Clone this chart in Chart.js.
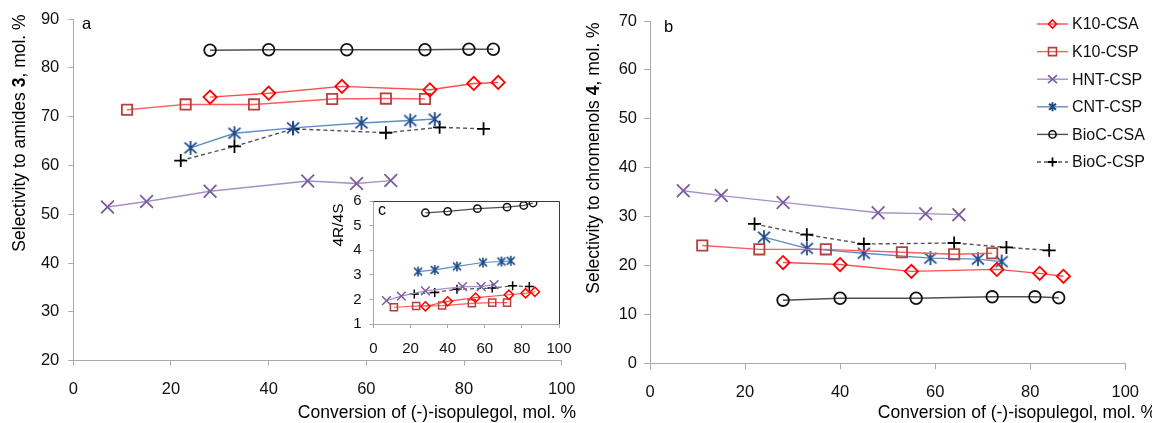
<!DOCTYPE html>
<html><head><meta charset="utf-8">
<script src="https://cdn.jsdelivr.net/npm/chart.js@4.4.1/dist/chart.umd.min.js"></script>
<style>
html,body{margin:0;padding:0;background:#fff;}
#wrap{position:relative;width:1152px;height:423px;overflow:hidden;background:#fff;}
canvas{position:absolute;left:0;top:0;}
</style></head><body>
<div id="wrap">
<canvas id="cb" width="1152" height="423"></canvas>
<canvas id="ca" width="1152" height="423"></canvas>
<canvas id="cc" width="1152" height="423"></canvas>
</div>
<script>
// ---------- DATA ----------
const seriesNames = ['K10-CSA','K10-CSP','HNT-CSP','CNT-CSP','BioC-CSA','BioC-CSP'];
const xTickValues = [0,20,40,60,80,100];
const yTicksA = [20,30,40,50,60,70,80,90];
const yTicksB = [0,10,20,30,40,50,60,70];
const yTicksC = [1,2,3,4,5,6];

// conversion (x) values, mol. %
const k10csaX  = [28,40,55,73,82,87];
const k10cspX  = [11,23,37,53,64,72];
const hntX     = [7,15,28,48,58,65];
const cntX     = [24,33,45,59,69,74];
const biocsaX  = [28,40,56,72,81,86];
const biocspX  = [22,33,45,64,75,84];

// panel a: selectivity to amides 3
const k10csaA  = [74.0,74.8,76.2,75.5,76.8,77.0];
const k10cspA  = [71.4,72.5,72.5,73.6,73.7,73.6];
const hntA     = [51.5,52.6,54.7,56.8,56.3,56.9];
const cntA     = [63.6,66.6,67.7,68.7,69.2,69.5];
const biocsaA  = [83.6,83.7,83.7,83.7,83.8,83.8];
const biocspA  = [61.0,63.9,67.5,66.7,67.8,67.5];

// panel b: selectivity to chromenols 4
const k10csaB  = [20.6,20.2,18.8,19.2,18.4,17.8];
const k10cspB  = [24.1,23.3,23.3,22.7,22.3,22.5];
const hntB     = [35.3,34.3,32.9,30.8,30.6,30.4];
const cntB     = [25.8,23.5,22.5,21.5,21.3,20.8];
const biocsaB  = [12.9,13.3,13.3,13.6,13.6,13.4];
const biocspB  = [28.5,26.3,24.4,24.6,23.7,23.1];

// panel c: 4R/4S ratio
const k10csaC  = [1.72,1.92,2.07,2.19,2.25,2.31];
const k10cspC  = [1.68,1.73,1.75,1.84,1.87,1.87];
const hntC     = [1.95,2.13,2.35,2.52,2.52,2.60];
const cntC     = [3.13,3.20,3.34,3.50,3.54,3.57];
const biocsaC  = [5.52,5.58,5.69,5.75,5.82,5.92];
const biocspC  = [2.22,2.28,2.41,2.46,2.55,2.52];

// ---------- STYLE ----------
const FONT = "'Liberation Sans', Arial, Helvetica, sans-serif";
const AXIS = '#a9a9a9';
const TXT = '#111';
const xsList = [k10csaX,k10cspX,hntX,cntX,biocsaX,biocspX];
const ysA = [k10csaA,k10cspA,hntA,cntA,biocsaA,biocspA];
const ysB = [k10csaB,k10cspB,hntB,cntB,biocsaB,biocspB];
const ysC = [k10csaC,k10cspC,hntC,cntC,biocsaC,biocspC];
const sty = [
  {line:'#ff4d4d', mark:'#ff0000', shape:'diamond', dash:[]},
  {line:'#ff5c5c', mark:'#b5413d', shape:'square', dash:[]},
  {line:'#a690c6', mark:'#7b5d9d', shape:'x', dash:[]},
  {line:'#5f8bc6', mark:'#1c4b8a', shape:'star', dash:[]},
  {line:'#505050', mark:'#111111', shape:'circle', dash:[]},
  {line:'#555555', mark:'#000000', shape:'plus', dash:[4,3]}
];

function starImg(w,h,color,lw){
  const c=document.createElement('canvas');
  c.width=Math.ceil(w+lw*2+2); c.height=Math.ceil(h+lw*2+2);
  const g=c.getContext('2d'); g.strokeStyle=color; g.lineWidth=lw;
  const cx=c.width/2, cy=c.height/2;
  g.beginPath();
  g.moveTo(cx-w/2,cy-h*0.38); g.lineTo(cx+w/2,cy+h*0.38);
  g.moveTo(cx-w/2,cy+h*0.38); g.lineTo(cx+w/2,cy-h*0.38);
  g.moveTo(cx,cy-h/2); g.lineTo(cx,cy+h/2);
  g.stroke(); return c;
}
const sizes = {
  main:  {diamond:['rectRot',6.6], square:['rect',7.3], x:['crossRot',9], circle:['circle',5.8], plus:['cross',6.5], star:[12,14,1.8], lw:1.8},
  inset: {diamond:['rectRot',4.6], square:['rect',5.0], x:['crossRot',6.2], circle:['circle',3.7], plus:['cross',4.5], star:[8,10,1.6], lw:1.5}
};
function ds(i, ys, which){
  const s=sty[i], z=sizes[which];
  let ps, r;
  if(s.shape==='star'){ const st=z.star; ps=starImg(st[0],st[1],s.mark,st[2]); r=6; }
  else { ps=z[s.shape][0]; r=z[s.shape][1]; }
  return {
    label: seriesNames[i],
    data: xsList[i].map((x,k)=>({x:x, y:ys[k]})),
    borderColor: s.line, borderWidth: which==='main'?1.4:1.2, borderDash: s.dash,
    pointStyle: ps, pointRadius: r, pointHoverRadius: r,
    pointBorderColor: s.mark, pointBackgroundColor: 'rgba(0,0,0,0)', pointBorderWidth: z.lw,
    tension: 0, fill: false
  };
}

function mixedText(ctx, parts, x, y, rot, align, size){
  ctx.save(); ctx.translate(x,y); ctx.rotate(rot);
  ctx.textBaseline='middle'; ctx.fillStyle='#000'; ctx.textAlign='left';
  let w=0;
  parts.forEach(p=>{ctx.font=(p.b?'bold ':'')+size+'px '+FONT; p.w=ctx.measureText(p.t).width; w+=p.w;});
  let cx = align==='center' ? -w/2 : (align==='right' ? -w : 0);
  parts.forEach(p=>{ctx.font=(p.b?'bold ':'')+size+'px '+FONT; ctx.fillText(p.t,cx,0); cx+=p.w;});
  ctx.restore();
}

function axes(ymin,ymax,yticks,cfg){
  return {
    x: {type:'linear', min:0, max:100, afterBuildTicks: s=>{s.ticks = xTickValues.map(v=>({value:v}));},
        ticks:{font:{family:FONT,size:cfg.fs}, color:TXT, padding:cfg.xpad, maxRotation:0, autoSkip:false},
        grid:{drawOnChartArea:false, drawTicks:true, tickLength:cfg.tl, color:AXIS},
        border:{color:AXIS, width:1},
        afterFit: s=>{ s.height = cfg.xh; }},
    y: {type:'linear', min:ymin, max:ymax, afterBuildTicks: s=>{s.ticks = yticks.map(v=>({value:v}));},
        ticks:{font:{family:FONT,size:cfg.fs}, color:TXT, padding:cfg.ypad, autoSkip:false},
        grid:{drawOnChartArea:false, drawTicks:true, tickLength:cfg.tl, color:AXIS},
        border:{color:AXIS, width:1},
        afterFit: s=>{ s.width = cfg.yw; }}
  };
}
const common = {responsive:false, animation:false, devicePixelRatio:1,
  plugins:{legend:{display:false}, tooltip:{enabled:false}}, events:[]};

// ---------- PANEL B ----------
const legendPlugin = {
  id:'legendB',
  afterDraw(chart){
    const ctx=chart.ctx;
    const y0=24, step=27.6, x1=1037, x2=1068, mx=1052.5;
    seriesNames.forEach((n,i)=>{
      const s=sty[i], y=y0+i*step;
      ctx.save();
      ctx.strokeStyle=s.line; ctx.lineWidth=1.4; ctx.setLineDash(s.dash);
      ctx.beginPath(); ctx.moveTo(x1,y); ctx.lineTo(x2,y); ctx.stroke();
      ctx.setLineDash([]);
      ctx.strokeStyle=s.mark; ctx.lineWidth=1.6;
      ctx.beginPath();
      if(s.shape==='diamond'){ ctx.moveTo(mx,y-4);ctx.lineTo(mx+4,y);ctx.lineTo(mx,y+4);ctx.lineTo(mx-4,y);ctx.closePath(); }
      else if(s.shape==='square'){ ctx.rect(mx-4,y-4,8,8); }
      else if(s.shape==='x'){ ctx.moveTo(mx-4.5,y-4);ctx.lineTo(mx+4.5,y+4);ctx.moveTo(mx-4.5,y+4);ctx.lineTo(mx+4.5,y-4); }
      else if(s.shape==='star'){ ctx.moveTo(mx-3.5,y-3);ctx.lineTo(mx+3.5,y+3);ctx.moveTo(mx-3.5,y+3);ctx.lineTo(mx+3.5,y-3);ctx.moveTo(mx,y-4.5);ctx.lineTo(mx,y+4.5); ctx.lineWidth=2; }
      else if(s.shape==='circle'){ ctx.arc(mx,y,3.6,0,Math.PI*2); }
      else if(s.shape==='plus'){ ctx.moveTo(mx-4.5,y);ctx.lineTo(mx+4.5,y);ctx.moveTo(mx,y-4.5);ctx.lineTo(mx,y+4.5); ctx.lineWidth=1.8; }
      ctx.stroke();
      ctx.fillStyle=TXT; ctx.font='16px '+FONT; ctx.textBaseline='middle'; ctx.textAlign='left';
      ctx.fillText(n, 1072, y+1);
      ctx.restore();
    });
  }
};
const textB = {
  id:'textB',
  afterDraw(chart){
    const ctx=chart.ctx;
    mixedText(ctx,[{t:'Selectivity to chromenols '},{t:'4',b:true},{t:', mol. %'}], 594, 158, -Math.PI/2, 'center', 17.5);
    mixedText(ctx,[{t:'Conversion of (-)-isopulegol, mol. %'}], 1156, 413, 0, 'right', 17.5);
    mixedText(ctx,[{t:'b'}], 664, 27, 0, 'left', 16.5);
  }
};
new Chart(document.getElementById('cb'), {
  type:'line',
  data:{datasets: ysB.map((ys,i)=>ds(i,ys,'main'))},
  options: Object.assign({}, common, {
    layout:{padding:{left:590, right:1152-1130.7, top:21, bottom:0}},
    scales: axes(0,70,yTicksB,{fs:16.5, xpad:13, ypad:7, tl:6, xh:423-363.3, yw:60})
  }),
  plugins:[legendPlugin, textB]
});

// ---------- PANEL A ----------
const textA = {
  id:'textA',
  afterDraw(chart){
    const ctx=chart.ctx;
    mixedText(ctx,[{t:'Selectivity to amides '},{t:'3',b:true},{t:', mol. %'}], 20, 133, -Math.PI/2, 'center', 17.5);
    mixedText(ctx,[{t:'Conversion of (-)-isopulegol, mol. %'}], 576, 413, 0, 'right', 17.5);
    mixedText(ctx,[{t:'a'}], 82, 24, 0, 'left', 16.5);
  }
};
new Chart(document.getElementById('ca'), {
  type:'line',
  data:{datasets: ysA.map((ys,i)=>ds(i,ys,'main'))},
  options: Object.assign({}, common, {
    layout:{padding:{left:0, right:1152-561.7, top:19, bottom:0}},
    scales: axes(20,90,yTicksA,{fs:16.5, xpad:14, ypad:9, tl:5, xh:423-360.7, yw:73.3})
  }),
  plugins:[textA]
});

// ---------- PANEL C (inset) ----------
const insetPlugin = {
  id:'inset',
  beforeDraw(chart){
    const a=chart.chartArea, ctx=chart.ctx;
    ctx.save(); ctx.fillStyle='#fff'; ctx.fillRect(a.left,a.top,a.right-a.left,a.bottom-a.top); ctx.restore();
  },
  afterDraw(chart){
    const a=chart.chartArea, ctx=chart.ctx;
    ctx.save(); ctx.strokeStyle='#3a3a3a'; ctx.lineWidth=1;
    ctx.beginPath(); ctx.moveTo(a.left, a.top+0.5); ctx.lineTo(a.right+0.5, a.top+0.5); ctx.lineTo(a.right+0.5, a.bottom); ctx.stroke();
    ctx.restore();
    mixedText(ctx,[{t:'4R/4S'}], 339, 225, -Math.PI/2, 'center', 15.5);
    mixedText(ctx,[{t:'c'}], 378, 211, 0, 'left', 16);
  }
};
new Chart(document.getElementById('cc'), {
  type:'line',
  data:{datasets: ysC.map((ys,i)=>ds(i,ys,'inset'))},
  options: Object.assign({}, common, {
    layout:{padding:{left:333.5, right:1152-559, top:201, bottom:0}},
    scales: axes(1,6,yTicksC,{fs:15, xpad:12, ypad:8, tl:4, xh:423-324, yw:40})
  }),
  plugins:[insetPlugin]
});
</script>
</body></html>
